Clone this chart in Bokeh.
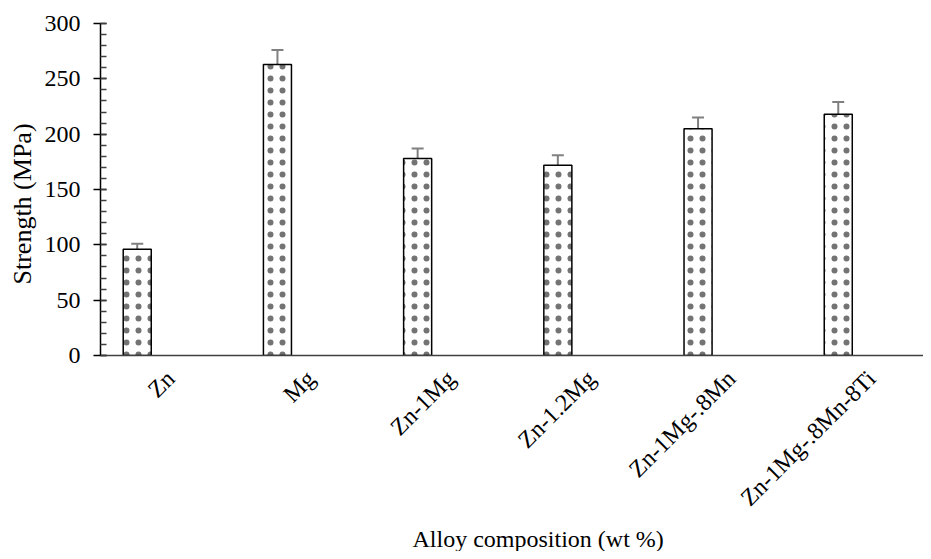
from bokeh.plotting import figure
from bokeh.models import Range1d, FixedTicker, Whisker, ColumnDataSource, Title, TeeHead
from bokeh.embed import file_html
from bokeh.resources import INLINE
import math

categories = ["Zn", "Mg", "Zn-1Mg", "Zn-1.2Mg", "Zn-1Mg-.8Mn", "Zn-1Mg-.8Mn-8Ti"]
strength = [96, 263, 178, 172, 205, 218]
error = [5, 13, 9, 9, 10, 11]
y_ticks = [0, 50, 100, 150, 200, 250, 300]

n = len(categories)
idx = list(range(n))
bar_x = [i + 0.262 for i in idx]
src = ColumnDataSource(dict(
    x=bar_x, top=strength,
    lower=[s - e for s, e in zip(strength, error)],
    upper=[s + e for s, e in zip(strength, error)],
))

p = figure(width=923, height=551, output_backend="svg", toolbar_location=None,
           x_range=Range1d(0, 5.87), y_range=Range1d(0, 300),
           min_border_left=100, min_border_right=0, min_border_top=23, min_border_bottom=0)
p.outline_line_color = None
p.grid.grid_line_color = None

p.vbar(x="x", top="top", bottom=0, width=0.2, source=src,
       fill_color="white", line_color="black", line_width=1.5,
       hatch_pattern="dot", hatch_color="black", hatch_scale=12, hatch_weight=1,
       hatch_alpha=0.55)

w = Whisker(base="x", lower="lower", upper="upper", source=src,
            line_color="#808080", line_width=2,
            upper_head=TeeHead(size=12, line_color="#808080", line_width=2),
            lower_head=TeeHead(size=12, line_color="#808080", line_width=2))
p.add_layout(w)

serif = "Liberation Serif"

xa = p.xaxis[0]
xa.ticker = FixedTicker(ticks=[i + 0.5 for i in idx])
xa.major_label_overrides = {i + 0.5: c for i, c in zip(idx, categories)}
xa.major_label_orientation = math.pi / 4
xa.major_tick_line_color = None
xa.minor_tick_line_color = None
xa.axis_line_color = "#404040"
xa.axis_line_width = 1.5
xa.major_label_text_font = serif
xa.major_label_text_font_size = "24px"
xa.major_label_text_color = "black"
xa.major_label_standoff = 13

ya = p.yaxis[0]
ya.ticker = FixedTicker(ticks=y_ticks, minor_ticks=list(range(0, 301, 10)))
ya.axis_line_color = "black"
ya.axis_line_width = 1.5
ya.major_tick_out = 7
ya.major_tick_in = 6
ya.minor_tick_in = 6
ya.minor_tick_out = 0
ya.major_tick_line_color = "black"
ya.minor_tick_line_color = "#404040"
ya.major_tick_line_width = 1.5
ya.minor_tick_line_width = 1.5
ya.major_label_text_font = serif
ya.major_label_text_font_size = "24px"
ya.major_label_text_color = "black"
ya.major_label_standoff = 13

yt = Title(text="Strength (MPa)", align="left", offset=71,
           text_font=serif, text_font_size="26px", text_font_style="normal",
           text_color="black", standoff=10)
p.add_layout(yt, "left")

xt = Title(text="Alloy composition (wt %)", align="left", offset=312,
           text_font=serif, text_font_size="24px", text_font_style="normal",
           text_color="black", standoff=0)
p.add_layout(xt, "below")

open("out.html", "w").write(file_html(p, INLINE))
